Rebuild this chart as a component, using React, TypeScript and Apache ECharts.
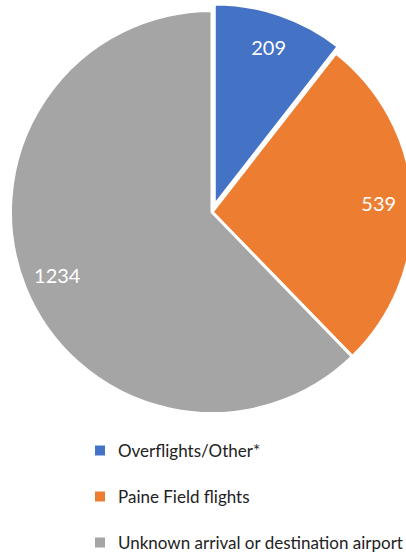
import React, { useEffect, useRef } from "react";
import * as echarts from "echarts";

const categories = ["Overflights/Other*", "Paine Field flights", "Unknown arrival or destination airport"];
const values = [209, 539, 1234];
const colors = ["#4472C4", "#ED7D31", "#A5A5A5"];

export default function App() {
  const ref = useRef<HTMLDivElement>(null);
  useEffect(() => {
    document.body.style.margin = "0";
    const chart = echarts.init(ref.current!, null, { renderer: "svg" });
    const font = "Lato, 'Noto Sans', sans-serif";
    const mk = (withStyle: boolean) =>
      categories.map((name, i) => ({
        name,
        value: values[i],
        selected: i === 0,
        itemStyle: withStyle
          ? { color: colors[i], borderColor: "#ffffff", borderWidth: 3 }
          : { color: "rgba(0,0,0,0)", borderWidth: 0 },
      }));
    chart.setOption({
      animation: false,
      color: colors,
      legend: {
        orient: "vertical",
        left: 93,
        top: 442,
        height: 140,
        padding: 0,
        itemWidth: 12,
        itemHeight: 12,
        itemGap: 29,
        icon: "rect",
        data: categories,
        textStyle: { fontFamily: font, fontSize: 17, lineHeight: 16, color: "#222", padding: [0, 0, 0, 7] },
      },
      series: [
        {
          type: "pie",
          center: [212, 212],
          radius: [0, 201.5],
          startAngle: 90,
          clockwise: true,
          selectedMode: "single",
          selectedOffset: 7,
          label: { show: false },
          labelLine: { show: false },
          emphasis: { disabled: true },
          data: mk(true),
        },
        {
          type: "pie",
          center: [212, 212],
          radius: [128, 200],
          startAngle: 90,
          clockwise: true,
          selectedMode: "single",
          selectedOffset: 7,
          silent: true,
          legendHoverLink: false,
          label: {
            show: true,
            position: "inside",
            formatter: "{c}",
            color: "#ffffff",
            fontFamily: font,
            fontSize: 20,
          },
          labelLine: { show: false },
          emphasis: { disabled: true },
          data: mk(false),
        },
      ],
    });
    return () => chart.dispose();
  }, []);
  return <div ref={ref} style={{ width: 406, height: 552 }} />;
}
